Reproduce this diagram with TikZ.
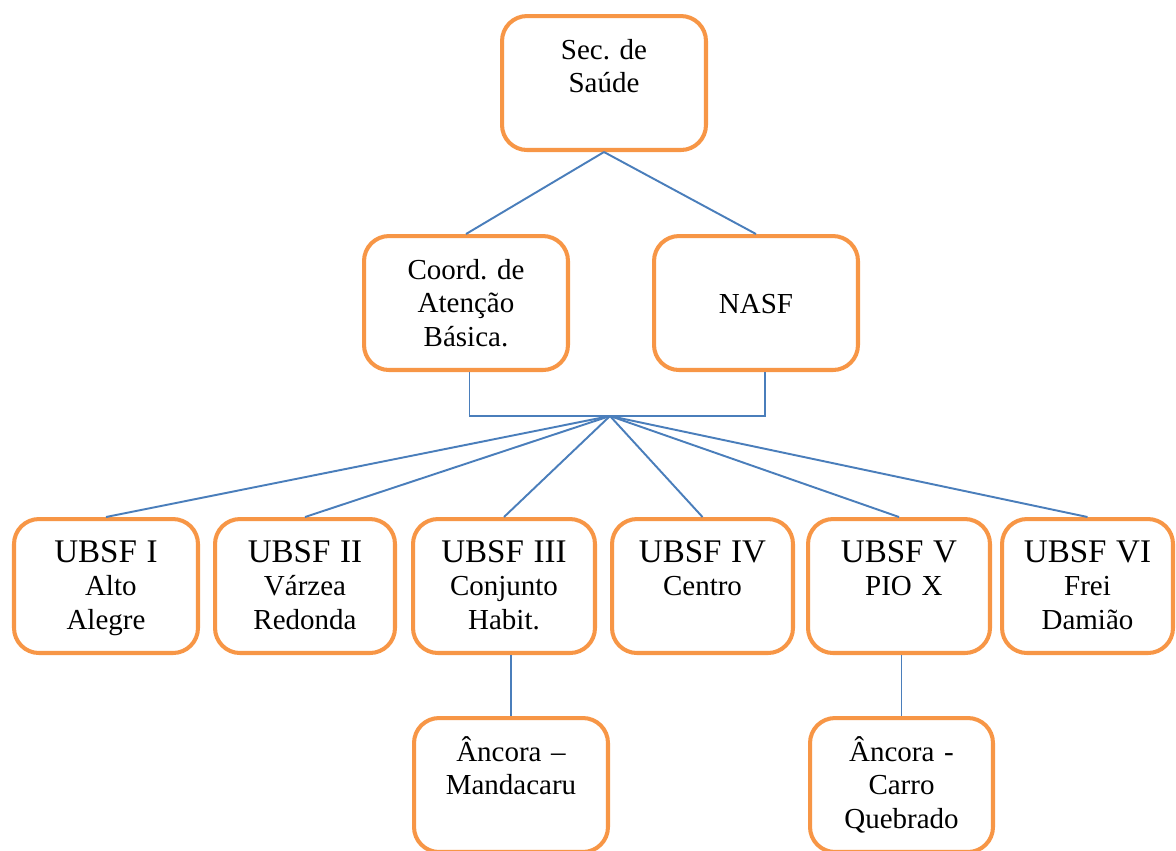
\documentclass[tikz,border=0pt]{standalone}
\usepackage{fontspec}
\setmainfont{Liberation Serif}
\usetikzlibrary{calc, positioning}
\definecolor{box orange}{HTML}{F79646}
\definecolor{link blue}{HTML}{4A7EBB}
\frenchspacing

\tikzset{
  unit/.style={draw=box orange, line width=2.3pt, rounded corners=0.5cm, fill=white,
    anchor=north, inner sep=0pt, align=center, text height=0.86cm, text depth=1.82cm,
    font=\fontsize{16.5}{19.3}\selectfont},
  link/.style={draw=link blue, line width=1.1pt}
}
\newcommand{\bigline}[1]{{\fontsize{18.8}{19.3}\selectfont #1}}

\begin{document}
\begin{tikzpicture}[x=0.02cm, y=-0.02cm]
    \useasboundingbox (0,0) rectangle (1176,850);
    % top levels
    \node[unit, text width=4.08cm] (sec) at (604,14) {Sec. de\\Saúde};
    \node[unit, text width=4.08cm] (coord) at (466,234) {Coord. de\\Atenção\\Básica.};
    \node[unit, text width=4.08cm, text height=1.54cm, text depth=1.14cm] (nasf) at (756,234) {NASF};
    \draw[link] (sec.south) -- (coord.north);
    \draw[link] (sec.south) -- (nasf.north);
    \coordinate (hub) at (610,416);
    \draw[link] ([xshift=2pt]coord.south) |- (hub) -| ([xshift=5pt]nasf.south);
    % UBSF row
    \node[unit, text width=3.68cm] (u1) at (106,517) {\bigline{UBSF I}\\~Alto\\Alegre};
    \node[unit, text width=3.60cm] (u2) at (305,517) {\bigline{UBSF II}\\Várzea\\Redonda};
    \node[unit, text width=3.64cm] (u3) at (504,517) {\bigline{UBSF III}\\Conjunto\\Habit.};
    \node[unit, text width=3.62cm] (u4) at (702.5,517) {\bigline{UBSF IV}\\Centro};
    \node[unit, text width=3.64cm] (u5) at (899,517) {\bigline{UBSF V}\\~PIO X};
    \node[unit, text width=3.42cm] (u6) at (1087.5,517) {\bigline{UBSF VI}\\Frei\\Damião};
    \foreach \number in {1,...,6}{
	\draw[link] (hub) -- (u\number.north);
	};
    % anchors
    \node[unit, text width=3.88cm] (a1) at (511,716) {Âncora --\\Mandacaru};
    \node[unit, text width=3.66cm] (a2) at (901.5,716) {Âncora -\\Carro\\Quebrado};
    \draw[link] (a1.north |- u3.south) -- (a1.north);
    \draw[link] (a2.north |- u5.south) -- (a2.north);
\end{tikzpicture}
\end{document}
